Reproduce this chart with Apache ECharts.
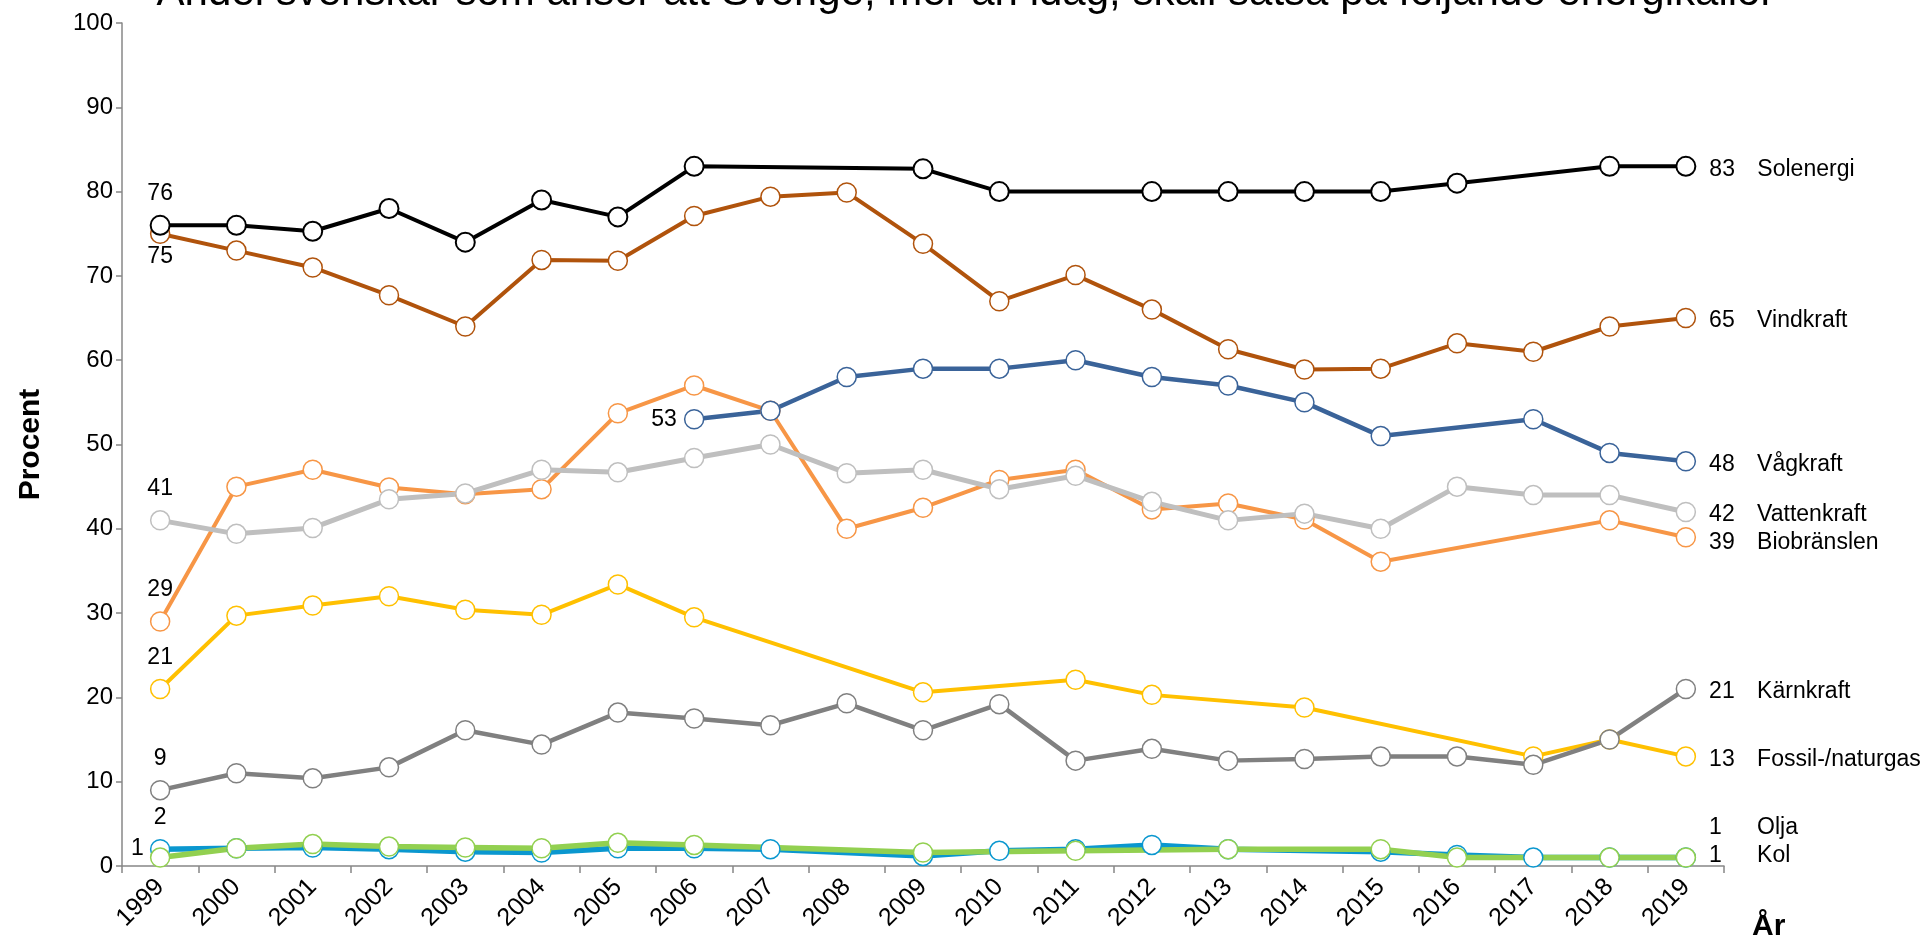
<!DOCTYPE html>
<html>
<head>
<meta charset="utf-8">
<title>Energikällor</title>
<script src="https://cdn.jsdelivr.net/npm/echarts@6/dist/echarts.min.js"></script>
<style>
  html, body { margin: 0; padding: 0; background: #fff; }
  #chart { width: 1931px; height: 942px; }
</style>
</head>
<body>
<div id="chart"></div>
<script>
// Survey years (category axis)
const years = ['1999','2000','2001','2002','2003','2004','2005','2006','2007','2008','2009',
               '2010','2011','2012','2013','2014','2015','2016','2017','2018','2019'];

// Share (%) per energy source; null = not asked that year
const solenergi   = [76, 76, 75.3, 78, 74, 79, 77, 83, null, null, 82.7, 80, null, 80, 80, 80, 80, 81, null, 83, 83];
const vindkraft   = [75, 73, 71, 67.7, 64, 71.9, 71.8, 77.1, 79.4, 79.9, 73.8, 67, 70.1, 66, 61.3, 58.9, 59, 62, 61, 64, 65];
const vagkraft    = [null, null, null, null, null, null, null, 53, 54, 58, 59, 59, 60, 58, 57, 55, 51, null, 53, 49, 48];
const vattenkraft = [41, 39.4, 40.1, 43.5, 44.2, 47, 46.7, 48.4, 50, 46.6, 47, 44.7, 46.3, 43.2, 41, 41.8, 40, 45, 44, 44, 42];
const biobranslen = [29, 45, 47, 44.9, 44.1, 44.7, 53.7, 57, 54, 40, 42.5, 45.8, 47, 42.3, 43, 41.1, 36.1, null, null, 41, 39];
const fossilgas   = [21, 29.7, 30.9, 32, 30.4, 29.8, 33.4, 29.5, null, null, 20.6, null, 22.1, 20.3, null, 18.8, null, null, 13, 15, 13];
const karnkraft   = [9, 11, 10.4, 11.7, 16.1, 14.4, 18.2, 17.5, 16.7, 19.3, 16.1, 19.2, 12.5, 13.9, 12.5, 12.7, 13, 13, 12, 15, 21];
const olja        = [2, 2.1, 2.2, 2.0, 1.7, 1.6, 2.1, 2.1, 2.0, null, 1.2, 1.8, 2.0, 2.5, 2.0, null, 1.7, 1.3, 1.0, 1.0, 1];
const kol         = [1, 2.1, 2.6, 2.3, 2.2, 2.1, 2.75, 2.5, null, null, 1.6, null, 1.8, null, 2.0, null, 2.0, 1.0, null, 1.0, 1];

const yTicks = { min: 0, max: 100, interval: 10 };

const FONT = '"Liberation Sans", Arial, sans-serif';
const LABEL_SIZE = 23;

// Builds one line series; labels the first labelled point and the last point.
function makeSeries(cfg) {
  const last = cfg.data.length - 1;
  const endOff = cfg.endOffset || [0, 0];
  const items = cfg.data.map((v, i) => {
    const item = { value: v };
    if (i === last) {
      item.label = {
        show: true,
        position: 'right',
        distance: 13,
        offset: [endOff[0], endOff[1] + 3],
        formatter: p => '{v|' + p.value + '}{n|' + cfg.name + '}',
        rich: {
          v: { width: 48, fontSize: LABEL_SIZE, fontFamily: FONT, color: '#000' },
          n: { fontSize: LABEL_SIZE, fontFamily: FONT, color: '#000' }
        }
      };
    } else if (cfg.startIndex === i) {
      item.label = {
        show: true,
        position: cfg.startPos || 'top',
        distance: cfg.startDist != null ? cfg.startDist : 10,
        offset: cfg.startOffset || [0, 0],
        formatter: p => String(p.value),
        fontSize: LABEL_SIZE, fontFamily: FONT, color: '#000'
      };
    }
    return item;
  });
  return {
    name: cfg.name,
    type: 'line',
    data: items,
    connectNulls: true,
    symbol: 'circle',
    symbolSize: 19,
    showAllSymbol: true,
    lineStyle: { color: cfg.color, width: cfg.width },
    itemStyle: { color: '#fff', borderColor: cfg.color, borderWidth: cfg.border || 1.5 },
    label: { show: false },
    emphasis: { disabled: true },
    z: 2
  };
}

const series = [
  makeSeries({ name: 'Fossil-/naturgas', data: fossilgas,   color: '#FFC000', width: 4,   startIndex: 0 }),
  makeSeries({ name: 'Kärnkraft',        data: karnkraft,   color: '#808080', width: 4.5, startIndex: 0 }),
  makeSeries({ name: 'Biobränslen',      data: biobranslen, color: '#F79646', width: 4,   startIndex: 0, endOffset: [0, 2] }),
  makeSeries({ name: 'Vattenkraft',      data: vattenkraft, color: '#BFBFBF', width: 5,   startIndex: 0 }),
  makeSeries({ name: 'Vågkraft',         data: vagkraft,    color: '#3A6399', width: 4.5, startIndex: 7, startPos: 'left', startDist: 7 }),
  makeSeries({ name: 'Vindkraft',        data: vindkraft,   color: '#B0530C', width: 4,   startIndex: 0, startPos: 'bottom', startDist: 1 }),
  makeSeries({ name: 'Solenergi',        data: solenergi,   color: '#000000', width: 4,   border: 2, startIndex: 0 }),
  makeSeries({ name: 'Olja',             data: olja,        color: '#0A97CF', width: 5.5, startIndex: 0, endOffset: [0, -33] }),
  makeSeries({ name: 'Kol',              data: kol,         color: '#92D050', width: 5.5, startIndex: 0, startPos: 'left', startDist: 6, startOffset: [0, -9], endOffset: [0, -5] })
];

const chart = echarts.init(document.getElementById('chart'), null, { renderer: 'canvas' });
chart.setOption({
  animation: false,
  backgroundColor: '#fff',
  textStyle: { fontFamily: FONT },
  grid: { left: 122, right: 207, top: 23, bottom: 70, containLabel: false },
  graphic: [{
    type: 'text',
    left: 'center',
    top: -28,
    style: {
      text: 'Andel svenskar som anser att Sverige, mer än idag, skall satsa på följande energikällor',
      font: '42px ' + FONT,
      fill: '#000'
    }
  }],
  xAxis: {
    type: 'category',
    data: years,
    boundaryGap: true,
    name: 'År',
    nameLocation: 'end',
    nameGap: 28,
    nameTextStyle: { fontSize: 30, fontWeight: 'bold', color: '#000', fontFamily: FONT,
                     verticalAlign: 'top', align: 'left', padding: [46, 0, 0, 0] },
    axisLine: { lineStyle: { color: '#878787', width: 1.5 } },
    axisTick: { show: true, length: 7, lineStyle: { color: '#878787', width: 1.5 } },
    axisLabel: { rotate: 45, interval: 0, fontSize: 25, color: '#000', margin: 17, fontFamily: FONT },
    splitLine: { show: false }
  },
  yAxis: {
    type: 'value',
    min: yTicks.min, max: yTicks.max, interval: yTicks.interval,
    name: 'Procent',
    nameLocation: 'middle',
    nameRotate: 90,
    nameGap: 76,
    nameTextStyle: { fontSize: 30, fontWeight: 'bold', color: '#000', fontFamily: FONT },
    axisLine: { show: true, lineStyle: { color: '#878787', width: 1.5 } },
    axisTick: { show: true, length: 6, lineStyle: { color: '#878787', width: 1.5 } },
    axisLabel: { fontSize: 24, color: '#000', margin: 9, fontFamily: FONT },
    splitLine: { show: false }
  },
  series: series
});
</script>
</body>
</html>
